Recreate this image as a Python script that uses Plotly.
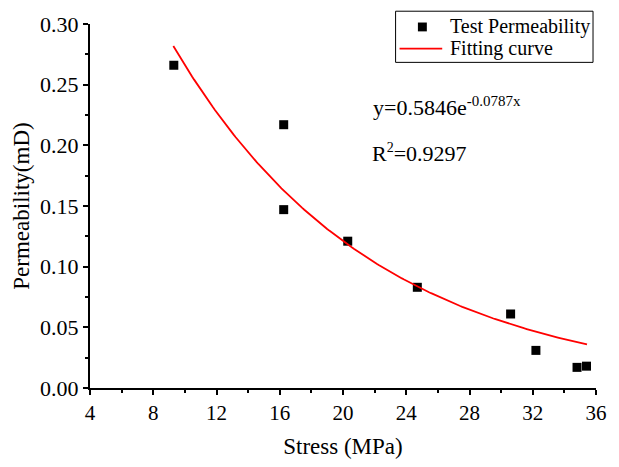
import numpy as np
import plotly.graph_objects as go

# Test data
stress = [9.3, 16.25, 16.25, 20.3, 24.7, 30.6, 32.2, 34.8, 35.4]
permeability = [0.266, 0.217, 0.147, 0.121, 0.083, 0.061, 0.031, 0.017, 0.018]

# Fitted curve parameters (y = a * exp(b x)), as printed on the chart
fit_a = 0.5846
fit_b = -0.0787
fit_x = np.linspace(9.27, 35.43, 200)
fit_y = fit_a * np.exp(fit_b * fit_x)

x_ticks = [4, 8, 12, 16, 20, 24, 28, 32, 36]
y_ticks = [0.00, 0.05, 0.10, 0.15, 0.20, 0.25, 0.30]

legend_names = ["Test Permeability", "Fitting curve"]

FONT = "Liberation Serif, Times New Roman, serif"

# plot-area geometry (pixels) used to place the legend box in paper coords
W, H = 619, 467
ML, MR, MT, MB = 90, 19, 20, 77
PW, PH = W - ML - MR, H - MT - MB


def px(xp):
    return (xp - ML) / PW


def py(yp):
    return (H - MB - yp) / PH


fig = go.Figure()
fig.add_trace(go.Scatter(
    x=stress, y=permeability, mode="markers", name=legend_names[0],
    marker=dict(symbol="square", size=9, color="black", line=dict(width=0)),
    showlegend=False,
))
fig.add_trace(go.Scatter(
    x=fit_x, y=fit_y, mode="lines", name=legend_names[1],
    line=dict(color="red", width=1.8),
    showlegend=False,
))

axis_common = dict(
    showline=True, linecolor="black", linewidth=2,
    ticks="outside", ticklen=5, tickwidth=2, tickcolor="black",
    showgrid=False, zeroline=False, mirror=False,
)

fig.update_xaxes(
    range=[4, 36], tickvals=x_ticks, ticktext=[str(v) for v in x_ticks],
    tickfont=dict(family=FONT, size=21, color="black"),
    minor=dict(dtick=2, tick0=4, ticks="outside", ticklen=3, tickwidth=2, tickcolor="black"),
    title=dict(text="Stress (MPa)", font=dict(family=FONT, size=23, color="black"), standoff=14),
    **axis_common,
)
fig.update_yaxes(
    range=[0, 0.30], tickvals=y_ticks, ticktext=[f"{v:.2f}" for v in y_ticks],
    tickfont=dict(family=FONT, size=22, color="black"),
    minor=dict(dtick=0.025, tick0=0, ticks="outside", ticklen=3, tickwidth=2, tickcolor="black"),
    title=dict(text="Permeability(mD)", font=dict(family=FONT, size=23, color="black"), standoff=4),
    **axis_common,
)

# equation and R^2 labels
fig.add_annotation(
    xref="paper", yref="paper", x=px(373), y=py(104),
    xanchor="left", yanchor="middle", showarrow=False,
    text="y=0.5846e<sup><span style='font-size:15px'>-0.0787x</span></sup>",
    font=dict(family=FONT, size=22, color="black"),
)
fig.add_annotation(
    xref="paper", yref="paper", x=px(372), y=py(151),
    xanchor="left", yanchor="middle", showarrow=False,
    text="R<sup><span style='font-size:14px'>2</span></sup>=0.9297",
    font=dict(family=FONT, size=22, color="black"),
)

# legend box (drawn to match the compact reference legend)
fig.add_shape(type="rect", xref="paper", yref="paper",
              x0=px(398), x1=px(597), y0=py(59), y1=py(7),
              line=dict(color="black", width=1), fillcolor="white", layer="above")
fig.add_shape(type="rect", xref="paper", yref="paper",
              x0=px(420.5), x1=px(429.5), y0=py(27.5), y1=py(18.5),
              line=dict(width=0), fillcolor="black", layer="above")
fig.add_shape(type="line", xref="paper", yref="paper",
              x0=px(402), x1=px(445), y0=py(45), y1=py(45),
              line=dict(color="red", width=1.8), layer="above")
for name, yc in zip(legend_names, [22.5, 45]):
    fig.add_annotation(
        xref="paper", yref="paper", x=px(451), y=py(yc),
        xanchor="left", yanchor="middle", showarrow=False,
        text=name, font=dict(family=FONT, size=20, color="black"),
    )

fig.update_layout(
    width=W, height=H,
    margin=dict(l=ML, r=MR, t=MT, b=MB),
    plot_bgcolor="white", paper_bgcolor="white",
    showlegend=False,
)

fig.write_html("out.html")
